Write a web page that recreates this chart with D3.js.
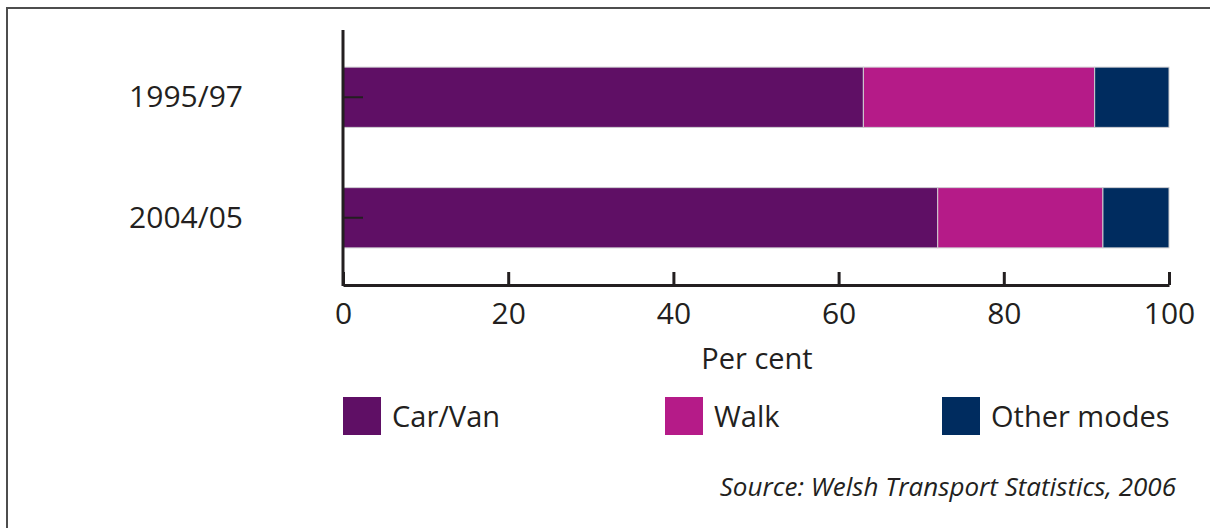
<!DOCTYPE html>
<html>
<head>
<meta charset="utf-8">
<script src="https://cdn.jsdelivr.net/npm/d3@7"></script>
<style>
  html, body { margin: 0; padding: 0; background: #fff; }
  svg text { font-family: "Open Sans", "Noto Sans", sans-serif; fill: #231f20; }
</style>
</head>
<body>
<svg class="chart"></svg>
<script>
const [width, height] = [1210, 528]

// Data
const periods = ['1995/97', '2004/05']
const modes = ['Car/Van', 'Walk', 'Other modes']
const carVan = [63, 72]
const walk = [28, 20]
const other = [9, 8]
const xTicks = [0, 20, 40, 60, 80, 100]
const colors = ['#5f0f65', '#b51b88', '#002c5f']

const rows = periods.map((p, i) => ({ period: p, 'Car/Van': carVan[i], 'Walk': walk[i], 'Other modes': other[i] }))
const series = d3.stack().keys(modes)(rows)

const svg = d3.select('svg.chart')
	.attr('width', width)
	.attr('height', height)

// frame
svg.append('path')
	.attr('d', `M7,${height + 5}V8H${width + 5}`)
	.attr('fill', 'none')
	.attr('stroke', '#4d4d4d')
	.attr('stroke-width', 2)

const x = d3.scaleLinear().domain([0, 100]).range([343, 1169])
const y = d3.scaleBand().domain(periods).range([37, 278]).paddingInner(0.5).paddingOuter(0.25)
const color = d3.scaleOrdinal().domain(modes).range(colors)

svg.append('g')
	.selectAll('g')
		.data(series)
	.enter().append('g')
		.attr('fill', d => color(d.key))
	.selectAll('rect')
		.data(d => d)
	.enter().append('rect')
		.attr('x', d => x(d[0]))
		.attr('y', d => y(d.data.period))
		.attr('width', d => x(d[1]) - x(d[0]))
		.attr('height', y.bandwidth())
		.attr('stroke', '#cfcfd2')
		.attr('stroke-width', 1)

// x axis
const xAxis = svg.append('g')
	.attr('transform', 'translate(0,285)')
	.call(d3.axisBottom(x).tickValues(xTicks).tickSize(-13).tickSizeOuter(0).tickPadding(18))
xAxis.select('.domain').attr('stroke', '#231f20').attr('stroke-width', 3)
xAxis.selectAll('.tick line').attr('stroke', '#231f20').attr('stroke-width', 3)
xAxis.selectAll('.tick text')
	.attr('font-size', 30)
	.attr('fill', '#231f20')
	.style('font-family', '"Open Sans", sans-serif')

// y axis
const yAxis = svg.append('g')
	.attr('transform', 'translate(343,0)')
	.call(d3.axisLeft(y).tickSize(-20).tickSizeOuter(0).tickPadding(0))
yAxis.select('.domain').attr('d', 'M0,30V286').attr('stroke', '#231f20').attr('stroke-width', 3)
yAxis.selectAll('.tick line').attr('stroke', '#231f20').attr('stroke-width', 2)
yAxis.selectAll('.tick text')
	.attr('x', -100)
	.attr('dy', '0.34em')
	.attr('font-size', 30)
	.attr('fill', '#231f20')
	.style('font-family', '"Open Sans", sans-serif')

svg.append('text')
	.attr('x', x(50) + 1)
	.attr('y', 369)
	.attr('text-anchor', 'middle')
	.attr('font-size', 29)
	.text('Per cent')

// legend
const legendX = [343, 665, 942]
const legend = svg.append('g')
	.selectAll('g')
		.data(modes)
	.enter().append('g')
		.attr('transform', (d, i) => `translate(${legendX[i]},397)`)
legend.append('rect')
	.attr('width', 38)
	.attr('height', 38)
	.attr('fill', d => color(d))
legend.append('text')
	.attr('x', 49)
	.attr('y', 30)
	.attr('font-size', 29)
	.text(d => d)

svg.append('text')
	.attr('x', 1176)
	.attr('y', 496)
	.attr('text-anchor', 'end')
	.attr('font-size', 26)
	.attr('font-style', 'italic')
	.text('Source: Welsh Transport Statistics, 2006')
</script>
</body>
</html>
